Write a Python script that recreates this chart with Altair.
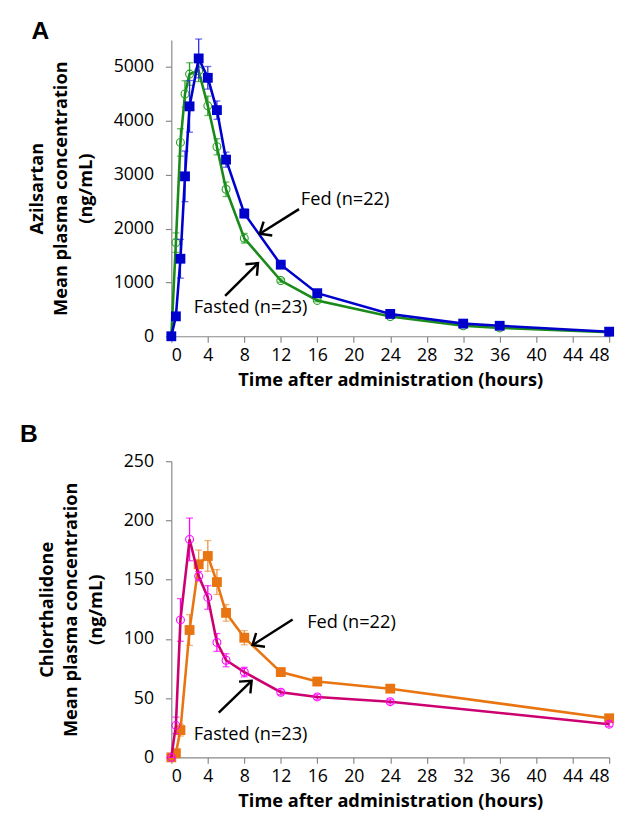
import altair as alt
import pandas as pd

# ---- Panel A: Azilsartan ----
tA = [0, 0.5, 1, 1.5, 2, 3, 4, 5, 6, 8, 12, 16, 24, 32, 36, 48]
azl_fed = [0, 370, 1440, 2970, 4270, 5160, 4800, 4200, 3280, 2280, 1330, 800, 415, 235, 195, 85]
azl_fed_sd = [0, 60, 360, 470, 480, 360, 210, 170, 140, 80, 50, 35, 25, 15, 12, 8]
azl_fast = [0, 1740, 3600, 4500, 4870, 4930, 4280, 3520, 2730, 1820, 1035, 665, 365, 195, 155, 75]
azl_fast_sd = [0, 180, 255, 245, 210, 200, 180, 150, 135, 90, 30, 25, 15, 10, 8, 5]

# ---- Panel B: Chlorthalidone ----
tB = [0, 0.5, 1, 2, 3, 4, 5, 6, 8, 12, 16, 24, 48]
chl_fed = [0, 3.5, 23, 107.5, 163, 170, 148, 122, 101, 72, 64, 58, 33]
chl_fed_sd = [0, 1, 5, 13, 12, 13, 10.5, 7, 6, 3, 2, 2, 2]
chl_fast = [0, 27, 116, 184, 153, 135, 97, 82, 72, 55, 51, 47, 28]
chl_fast_sd = [0, 7, 18, 18, 4, 10, 7.5, 5.5, 4, 2, 2, 2, 2]

x_ticks = [0, 4, 8, 12, 16, 20, 24, 28, 32, 36, 40, 44, 48]
x_title = "Time after administration (hours)"

# annotations (data units): label text, label pos, arrow start, arrow end, head angle
annA = pd.DataFrame({
    "label": ["Fed (n=22)", "Fasted (n=23)"],
    "lx": [14.2, 2.45], "ly": [2545, 535],
    "x1": [14.0, 5.9], "y1": [2362, 749],
    "x2": [9.7, 9.5], "y2": [1905, 1357],
    "ang": [148, 315],
})
annB = pd.DataFrame({
    "label": ["Fed (n=22)", "Fasted (n=23)"],
    "lx": [14.9, 2.45], "ly": [114.5, 19.4],
    "x1": [13.3, 5.2], "y1": [116.4, 37.7],
    "x2": [8.9, 8.8], "y2": [94.8, 64.6],
    "ang": [147, 316],
})

FONT = "Open Sans"
W, H = 445, 301


class Panel:
    def __init__(self, ytitle, ymax, ystep):
        self.xs = alt.Scale(domain=[0, 48], nice=False, zero=False)
        self.ys = alt.Scale(domain=[0, ymax], nice=False)
        self.xaxis = alt.Axis(values=x_ticks, title=x_title, labelOverlap=False)
        self.yaxis = alt.Axis(values=list(range(0, int(ymax) + 1, ystep)), title=ytitle, format="d")

    def X(self, field):
        return alt.X(field, type="quantitative", scale=self.xs, axis=self.xaxis)

    def Y(self, field):
        return alt.Y(field, type="quantitative", scale=self.ys, axis=self.yaxis)

    def series(self, t, v, sd, line_col, mark_col, err_col, square):
        df = pd.DataFrame({"t": t, "v": v, "lo": [a - b for a, b in zip(v, sd)],
                           "hi": [a + b for a, b in zip(v, sd)]})
        base = alt.Chart(df)
        bar = base.mark_rule(color=err_col, strokeWidth=1.3).encode(x=self.X("t"), y=self.Y("lo"), y2="hi")
        cap_lo = base.mark_tick(orient="horizontal", color=err_col, size=7, thickness=1.3).encode(
            x=self.X("t"), y=self.Y("lo"))
        cap_hi = base.mark_tick(orient="horizontal", color=err_col, size=7, thickness=1.3).encode(
            x=self.X("t"), y=self.Y("hi"))
        line = base.mark_line(color=line_col, strokeWidth=2.6).encode(x=self.X("t"), y=self.Y("v"))
        if square:
            pts = base.mark_point(shape="square", filled=True, size=100, color=mark_col, opacity=1).encode(
                x=self.X("t"), y=self.Y("v"))
        else:
            pts = base.mark_point(shape="circle", filled=False, size=64, color=mark_col, strokeWidth=1.1,
                                  opacity=1).encode(x=self.X("t"), y=self.Y("v"))
        return [bar, cap_lo, cap_hi, line, pts]

    def annotations(self, ann):
        base = alt.Chart(ann)
        txt = base.mark_text(align="left", baseline="middle", font=FONT, fontSize=18.5, color="black").encode(
            x=self.X("lx"), y=self.Y("ly"), text="label:N")
        shaft = base.mark_rule(color="black", strokeWidth=2.5).encode(
            x=self.X("x1"), y=self.Y("y1"), x2="x2:Q", y2="y2:Q")
        head = base.mark_point(shape="M-1,-0.85L0,0L-1,0.85", filled=False, size=380, color="black",
                               strokeWidth=2.5, opacity=1).encode(
            x=self.X("x2"), y=self.Y("y2"), angle=alt.Angle("ang:Q", scale=None))
        return [shaft, head, txt]

    def chart(self, letter, letter_dx, letter_offset, layers):
        return alt.layer(*layers).properties(
            width=W, height=H,
            title=alt.TitleParams(letter, anchor="start", frame="bounds", font="Liberation Sans",
                                  fontSize=25, fontWeight="bold", dx=letter_dx,
                                  offset=letter_offset),
        )


pA = Panel(["Azilsartan", "Mean plasma concentration", "(ng/mL)"], 5500, 1000)
pB = Panel(["Chlorthalidone", "Mean plasma concentration", "(ng/mL)"], 250, 50)

layersA = (pA.series(tA, azl_fast, azl_fast_sd, "#1A8A1A", "#22A022", "#22A022", False)
           + pA.series(tA, azl_fed, azl_fed_sd, "#0000CC", "#0000CC", "#2A2AE0", True)
           + pA.annotations(annA))
layersB = (pB.series(tB, chl_fed, chl_fed_sd, "#E87511", "#E87511", "#EF9340", True)
           + pB.series(tB, chl_fast, chl_fast_sd, "#CC0070", "#FF00FF", "#FF00FF", False)
           + pB.annotations(annB))

A = pA.chart("A", 4, -6, layersA)
B = pB.chart("B", -18, 6, layersB)

chart = alt.vconcat(A, B, spacing=33).properties(
    padding={"left": 12, "top": 5, "right": 2, "bottom": 2}
).configure_view(stroke=None).configure_axis(
    grid=False,
    domainColor="#888888", domainWidth=1.2,
    tickColor="#888888", tickSize=6, tickWidth=1.2,
    labelFont=FONT, labelFontSize=18, labelColor="black",
    titleFont=FONT, titleFontSize=18.5, titleFontWeight="bold", titleColor="black",
    titleLineHeight=25,
).configure_axisX(labelPadding=5, titlePadding=6).configure_axisY(labelPadding=12, titlePadding=18)

chart.save("out.html", embed_options={"renderer": "svg", "actions": False})
